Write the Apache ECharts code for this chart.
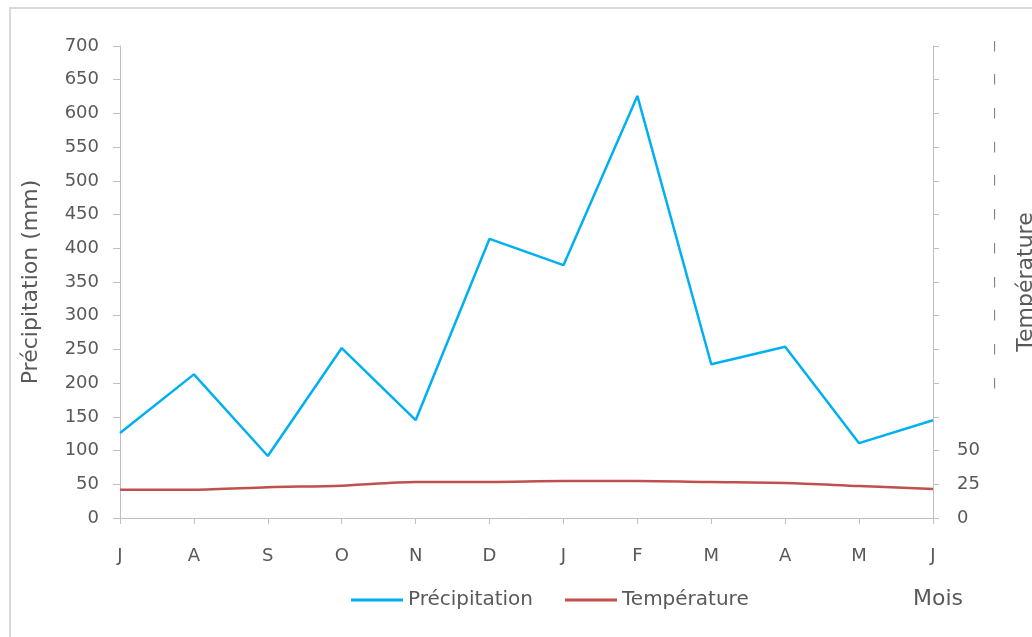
<!DOCTYPE html>
<html><head><meta charset="utf-8">
<script src="https://cdn.jsdelivr.net/npm/echarts@6/dist/echarts.min.js"></script>
<style>html,body{margin:0;padding:0;background:#fff;overflow:hidden}#c{width:1032px;height:637px}</style>
</head><body><div id="c"></div>
<script>
const months = ['J','A','S','O','N','D','J','F','M','A','M','J'];
const precipitation = [126, 213, 92, 252, 145, 414, 375, 626, 228, 254, 111, 145];
const temperature = [21, 21, 22.8, 24, 26.7, 26.7, 27.4, 27.4, 26.7, 26, 23.7, 21.5];
const precipTicks = {min: 0, max: 700, interval: 50};
const tempTicks = {min: 0, max: 350, interval: 25};

const FONT = 'DejaVu Sans';
const TXT = '#595959';
const AX = '#bfbfbf';
const chart = echarts.init(document.getElementById('c'));
chart.setOption({
  animation: false,
  textStyle: {fontFamily: FONT},
  grid: {left: 120, right: 99, top: 46, bottom: 119, containLabel: false, outerBoundsMode: 'none'},
  legend: {
    data: ['Précipitation', 'Température'],
    left: 346, top: 585,
    icon: 'rect', itemWidth: 52, itemHeight: 3, itemGap: 32,
    textStyle: {color: TXT, fontSize: 20, fontFamily: FONT, padding: [0,0,0,0]}
  },
  graphic: [
    {type: 'rect', shape: {x: 10, y: 8, width: 1040, height: 650}, style: {fill: 'none', stroke: '#d9d9d9', lineWidth: 2}},
    {type: 'text', left: 913, top: 588, style: {text: 'Mois', fill: TXT, fontSize: 22, fontFamily: FONT}}
  ],
  xAxis: {
    type: 'category', data: months, boundaryGap: false,
    axisLine: {lineStyle: {color: AX}},
    axisTick: {length: 6, lineStyle: {color: AX}},
    axisLabel: {color: TXT, fontSize: 18, margin: 29, fontFamily: FONT}
  },
  yAxis: [
    {
      type: 'value', min: precipTicks.min, max: precipTicks.max, interval: precipTicks.interval,
      name: 'Précipitation (mm)', nameLocation: 'middle', nameGap: 78, nameRotate: 90,
      nameTextStyle: {color: TXT, fontSize: 22, fontFamily: FONT},
      axisLine: {show: true, lineStyle: {color: AX}},
      axisTick: {show: true, length: 7, lineStyle: {color: AX}},
      splitLine: {show: false},
      axisLabel: {color: TXT, fontSize: 18, margin: 21, fontFamily: FONT}
    },
    {
      type: 'value', position: 'right', min: tempTicks.min, max: tempTicks.max, interval: tempTicks.interval,
      name: 'Température', nameLocation: 'middle', nameGap: 82, nameRotate: 90,
      nameTextStyle: {color: TXT, fontSize: 22, fontFamily: FONT},
      axisLine: {show: true, lineStyle: {color: AX}},
      axisTick: {show: true, length: 6, lineStyle: {color: AX}},
      splitLine: {show: false},
      axisLabel: {
        color: TXT, fontSize: 18, margin: 24, fontFamily: FONT,
        formatter: v => v <= 50 ? String(v) : (v >= 100 ? '{m||}' : ''),
        rich: {m: {fontSize: 10, color: '#595959', padding: [0,0,0,36]}}
      }
    }
  ],
  series: [
    {name: 'Précipitation', type: 'line', data: precipitation, yAxisIndex: 0,
     showSymbol: false, symbol: 'none', lineStyle: {color: '#00b0f0', width: 2.5}, itemStyle: {color: '#00b0f0'}},
    {name: 'Température', type: 'line', data: temperature, yAxisIndex: 1, smooth: 0.3,
     showSymbol: false, symbol: 'none', lineStyle: {color: '#c0504d', width: 2.5}, itemStyle: {color: '#c0504d'}}
  ]
});
</script></body></html>
